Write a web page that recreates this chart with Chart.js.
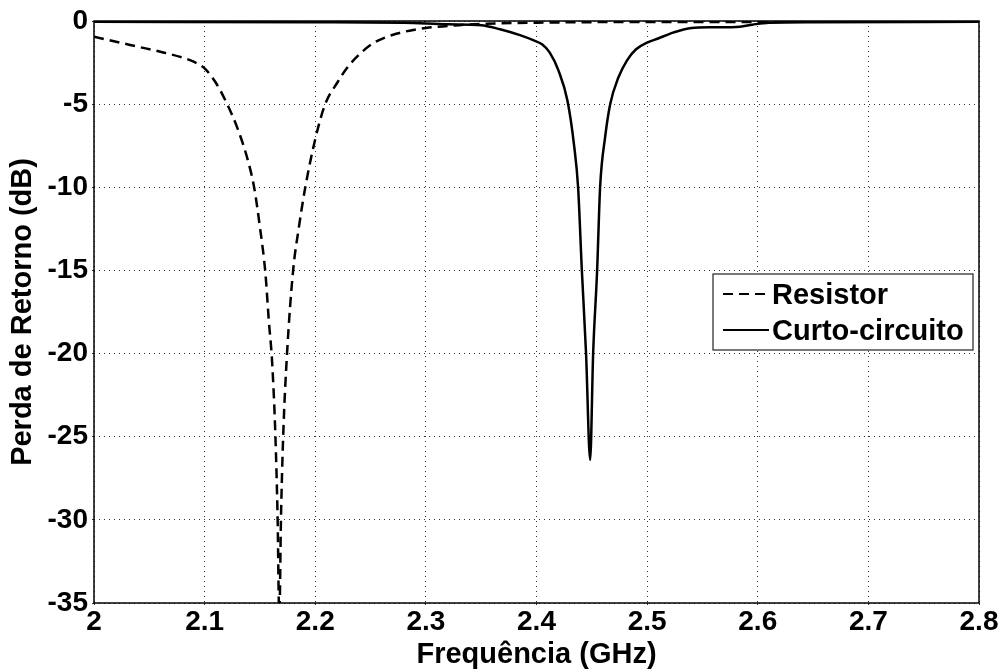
<!DOCTYPE html>
<html>
<head>
<meta charset="utf-8">
<title>Perda de Retorno</title>
<script src="https://cdn.jsdelivr.net/npm/chart.js@4.4.0/dist/chart.umd.min.js"></script>
<style>
    body { margin: 0; background: #fff; }
    canvas { display: block; }
</style>
</head>
<body>
<canvas id="rlChart" width="1004" height="672"></canvas>
<script>
// Return loss data
const resistorFreq = [2.00, 2.02, 2.04, 2.06, 2.08, 2.09, 2.10, 2.11, 2.12, 2.13, 2.14, 2.145, 2.15, 2.155, 2.158, 2.161, 2.164, 2.166, 2.1675,
    2.169, 2.171, 2.1745, 2.18, 2.185, 2.191, 2.20, 2.209, 2.22, 2.229, 2.24, 2.252, 2.263, 2.274, 2.30, 2.33, 2.35, 2.40, 2.50, 2.80];
const resistorDb = [-0.95, -1.25, -1.55, -1.85, -2.2, -2.45, -2.85, -3.7, -4.95, -6.5, -8.6, -10.1, -12.4, -15.2, -18, -20.5, -25, -30, -36,
    -30, -25, -20, -15, -12.5, -10, -7.1, -5, -3.7, -2.8, -2.0, -1.35, -1.0, -0.75, -0.42, -0.25, -0.18, -0.1, -0.06, -0.05];

const curtoFreq = [2.00, 2.20, 2.28, 2.32, 2.35, 2.367, 2.385, 2.397, 2.405, 2.412, 2.42, 2.428, 2.434, 2.4376, 2.441, 2.4448, 2.4485,
    2.4512, 2.4548, 2.4575, 2.462, 2.4666, 2.474, 2.482, 2.49, 2.50, 2.51, 2.5235, 2.54, 2.56, 2.584, 2.595, 2.61, 2.65, 2.80];
const curtoDb = [-0.05, -0.08, -0.1, -0.2, -0.25, -0.5, -0.85, -1.15, -1.4, -1.9, -3.0, -4.8, -7.5, -10, -15, -20, -26.4,
    -20, -15, -10, -7.0, -5, -3.4, -2.35, -1.7, -1.3, -1.05, -0.7, -0.42, -0.38, -0.34, -0.22, -0.1, -0.07, -0.05];

const xTicks = [2, 2.1, 2.2, 2.3, 2.4, 2.5, 2.6, 2.7, 2.8];
const yTicks = [0, -5, -10, -15, -20, -25, -30, -35];

const labelFont = { family: 'Arial, "Liberation Sans", sans-serif', size: 28, weight: 'bold' };
const titleFont = { family: 'Arial, "Liberation Sans", sans-serif', size: 29, weight: 'bold' };

document.addEventListener('DOMContentLoaded', function() {
    initializeChart();
});

function toPoints(xs, ys) {
    return xs.map((x, i) => ({ x: x, y: ys[i] }));
}

// Frame around the plot area (MATLAB box)
const framePlugin = {
    id: 'frame',
    afterDatasetsDraw(chart) {
        const { ctx, chartArea: a } = chart;
        ctx.save();
        ctx.strokeStyle = '#000';
        ctx.lineWidth = 1.5;
        ctx.strokeRect(a.left, a.top, a.right - a.left, a.bottom - a.top);
        ctx.restore();
    }
};

// Legend box drawn inside the plot
const boxLegendPlugin = {
    id: 'boxLegend',
    afterDraw(chart) {
        const ctx = chart.ctx;
        const box = { x: 713, y: 274, w: 260, h: 76 };
        ctx.save();
        ctx.fillStyle = '#fff';
        ctx.fillRect(box.x, box.y, box.w, box.h);
        ctx.strokeStyle = '#222';
        ctx.lineWidth = 1.2;
        ctx.strokeRect(box.x, box.y, box.w, box.h);

        ctx.font = 'bold 29px Arial, "Liberation Sans", sans-serif';
        ctx.textBaseline = 'middle';
        ctx.fillStyle = '#000';
        chart.data.datasets.forEach((ds, i) => {
            const yy = box.y + 20 + i * 36;
            ctx.beginPath();
            ctx.setLineDash(ds.borderDash || []);
            ctx.lineWidth = 2;
            ctx.strokeStyle = ds.borderColor;
            ctx.moveTo(box.x + 10, yy);
            ctx.lineTo(box.x + 56, yy);
            ctx.stroke();
            ctx.setLineDash([]);
            ctx.fillText(ds.label, box.x + 59, yy + 2);
        });
        ctx.restore();
    }
};

function initializeChart() {
    const ctx = document.getElementById('rlChart').getContext('2d');
    new Chart(ctx, {
        type: 'line',
        data: {
            datasets: [{
                label: 'Resistor',
                data: toPoints(resistorFreq, resistorDb),
                borderColor: '#000',
                borderWidth: 2.5,
                borderDash: [10, 6],
                pointRadius: 0,
                cubicInterpolationMode: 'monotone',
                fill: false
            }, {
                label: 'Curto-circuito',
                data: toPoints(curtoFreq, curtoDb),
                borderColor: '#000',
                borderWidth: 2.5,
                pointRadius: 0,
                cubicInterpolationMode: 'monotone',
                fill: false
            }]
        },
        options: {
            responsive: false,
            animation: false,
            layout: {
                padding: { top: 21, right: 25, left: 0, bottom: 0 }
            },
            plugins: {
                legend: { display: false },
                tooltip: { enabled: false }
            },
            scales: {
                x: {
                    type: 'linear',
                    min: 2,
                    max: 2.8,
                    afterFit(scale) { scale.height = 69; },
                    afterBuildTicks(scale) {
                        scale.ticks = xTicks.map(v => ({ value: v }));
                    },
                    ticks: {
                        color: '#000',
                        font: labelFont,
                        padding: 0,
                        maxRotation: 0,
                        callback: v => String(Math.round(v * 10) / 10)
                    },
                    grid: {
                        color: '#333',
                        lineWidth: 1,
                        tickLength: 2
                    },
                    border: { display: false, dash: [1, 4] },
                    title: {
                        display: true,
                        text: 'Frequência (GHz)',
                        color: '#000',
                        font: titleFont,
                        padding: { top: 0, bottom: 0 }
                    }
                },
                y: {
                    min: -35,
                    max: 0,
                    afterFit(scale) { scale.width = 94; },
                    afterBuildTicks(scale) {
                        scale.ticks = yTicks.map(v => ({ value: v }));
                    },
                    ticks: {
                        color: '#000',
                        font: labelFont,
                        padding: 4
                    },
                    grid: {
                        color: '#333',
                        lineWidth: 1,
                        tickLength: 2
                    },
                    border: { display: false, dash: [1, 4] },
                    title: {
                        display: true,
                        text: 'Perda de Retorno (dB)',
                        color: '#000',
                        font: titleFont,
                        padding: { top: 6, bottom: 0 }
                    }
                }
            }
        },
        plugins: [framePlugin, boxLegendPlugin]
    });
}
</script>
</body>
</html>
